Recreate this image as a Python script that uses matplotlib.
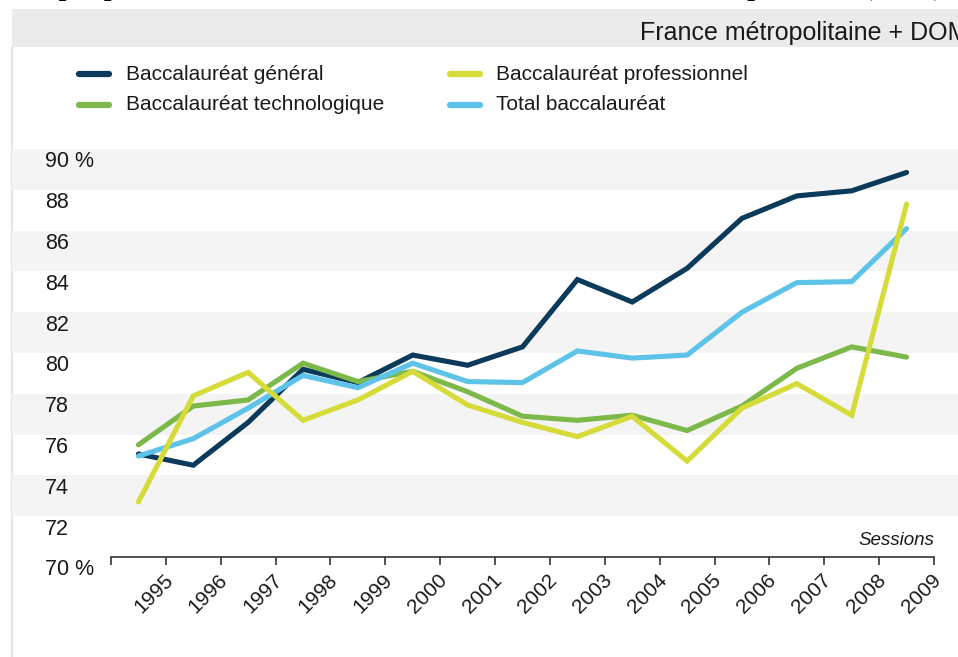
import matplotlib
matplotlib.use("Agg")
import matplotlib.pyplot as plt
from matplotlib import transforms
from matplotlib.lines import Line2D
from matplotlib.patches import Rectangle

# donnees (taux de reussite, en %)
years = [str(y) for y in range(1995, 2010)]
bac_general = [75.05, 74.5, 76.6, 79.2, 78.55, 79.9, 79.4, 80.3, 83.6, 82.5,
               84.15, 86.6, 87.7, 87.95, 88.85]
bac_techno = [75.5, 77.4, 77.7, 79.5, 78.6, 79.1, 78.1, 76.9, 76.7, 76.95,
              76.2, 77.4, 79.25, 80.3, 79.8]
bac_pro = [72.7, 77.9, 79.05, 76.7, 77.7, 79.1, 77.45, 76.6, 75.9, 76.9,
           74.7, 77.3, 78.5, 76.95, 87.3]
bac_total = [74.95, 75.8, 77.3, 78.9, 78.3, 79.5, 78.6, 78.55, 80.1, 79.75,
             79.9, 82.0, 83.45, 83.5, 86.1]
y_ticks = [70, 72, 74, 76, 78, 80, 82, 84, 86, 88, 90]
y_labels = ["70 %", "72", "74", "76", "78", "80", "82", "84", "86", "88", "90 %"]

series = [
    ("Baccalauréat général", bac_general, "#0b3a5a"),
    ("Baccalauréat technologique", bac_techno, "#7cb94a"),
    ("Total baccalauréat", bac_total, "#5ec3e8"),
    ("Baccalauréat professionnel", bac_pro, "#d5dc3a"),
]

plt.rcParams['font.family'] = ['Liberation Sans', 'DejaVu Sans']

W, H = 958, 657
fig = plt.figure(figsize=(W / 100, H / 100), dpi=100)
fig.patch.set_facecolor("white")

def fx(px):
    return px / W

def fy(py):
    return 1 - py / H

ax = fig.add_axes([fx(111), fy(557), fx(934) - fx(111), fy(149) - fy(557)])
ax.set_facecolor("none")
ax.set_xlim(-0.5, len(years) - 0.5)
ax.set_ylim(70, 90)

# bandes grises alternees, sur toute la largeur
blend = transforms.blended_transform_factory(fig.transFigure, ax.transData)
for v in range(72, 90, 4):
    ax.add_patch(Rectangle((fx(12), v), 1 - fx(12), 2, transform=blend,
                           facecolor="#f4f4f4", edgecolor="none",
                           clip_on=False, zorder=0))

x = list(range(len(years)))
for name, vals, col in series:
    ax.plot(x, vals, color=col, lw=3.7, solid_joinstyle="miter",
            solid_capstyle="round", zorder=3)

# axes
for s in ["left", "right", "top"]:
    ax.spines[s].set_visible(False)
ax.spines["bottom"].set_color("#333333")
ax.spines["bottom"].set_linewidth(1.2)
ax.set_yticks([])
ax.set_xticks([i - 0.5 for i in range(len(years) + 1)])
ax.set_xticklabels([])
ax.tick_params(axis="x", direction="out", length=6, width=1.2, color="#333333")

# etiquettes des annees
off = transforms.ScaledTranslation(0.04, -0.20, fig.dpi_scale_trans)
for i, yr in enumerate(years):
    ax.text(i + 0.5, 70, yr, transform=ax.transData + off, rotation=45,
            rotation_mode="anchor", ha="right", va="center", fontsize=15,
            color="#1a1a1a")

# etiquettes de l'axe y (decalees sous la ligne)
yblend = transforms.blended_transform_factory(fig.transFigure, ax.transData)
yoff = transforms.ScaledTranslation(0, -0.13, fig.dpi_scale_trans)
for v, lab in zip(y_ticks, y_labels):
    ax.text(fx(45), v, lab, transform=yblend + yoff, ha="left", va="center",
            fontsize=15.5, color="#1a1a1a")

ax.text(1.0, 70.4, "Sessions", transform=transforms.blended_transform_factory(
    ax.transAxes, ax.transData), ha="right", va="bottom", fontsize=13.5,
    style="italic", color="#1a1a1a")

# bandeau du haut
fig.add_artist(Rectangle((fx(12), fy(47)), 1 - fx(12), fy(9) - fy(47),
                         transform=fig.transFigure, facecolor="#ebebeb",
                         edgecolor="none", zorder=0))
fig.text(fx(968), fy(33), "France métropolitaine + DOM", ha="right",
         va="center", fontsize=18, color="#1a1a1a")
fig.add_artist(Line2D([fx(12), fx(12)], [0, fy(47)], transform=fig.transFigure,
                      color="#e6e6e6", lw=1.5, zorder=0))

# titre coupe en haut
fig.text(fx(12), fy(-5), "Graphique 1 - Taux de réussite au baccalauréat selon la série depuis 1995 (en %)",
         ha="left", va="baseline", fontsize=19.5, fontweight="bold",
         family=["Liberation Serif"], color="black")

# legende
legend_items = [
    (76, 126, 74, "Baccalauréat général", "#0b3a5a"),
    (447, 496, 74, "Baccalauréat professionnel", "#d5dc3a"),
    (76, 126, 105, "Baccalauréat technologique", "#7cb94a"),
    (447, 496, 105, "Total baccalauréat", "#5ec3e8"),
]
for lx, tx, ly, lab, col in legend_items:
    fig.add_artist(Line2D([fx(lx + 3), fx(lx + 33)], [fy(ly), fy(ly)],
                          transform=fig.transFigure, color=col, lw=4.5,
                          solid_capstyle="round"))
    fig.text(fx(tx), fy(ly), lab, ha="left", va="center", fontsize=15,
             color="#1a1a1a")

fig.savefig("out.png", dpi=100)
